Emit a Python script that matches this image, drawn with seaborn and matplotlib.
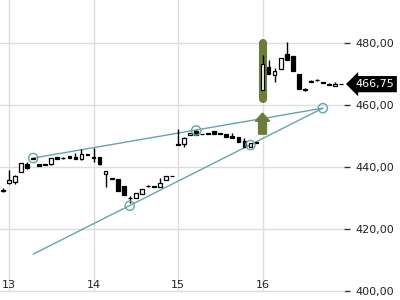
import numpy as np
import pandas as pd
import matplotlib
matplotlib.use("Agg")
import matplotlib.pyplot as plt
import matplotlib.transforms as mtransforms
import seaborn as sns

# ---- data ----
opens  = [432.4, 434.8, 435.3, 438.5, 440.9, 442.6, 441.0, 440.9, 440.9, 443.4,
          442.8, 443.5, 443.1, 442.5, 444.2, 443.3, 443.1, 437.7, 436.3, 436.1,
          433.9, 429.9, 429.9, 431.3, 433.8, 433.9, 433.5, 435.8, 437.1, 447.3,
          447.4, 450.3, 451.7, 450.6, 450.9, 451.6, 450.9, 450.6, 450.0, 449.8,
          448.5, 446.5, 448.0, 464.8, 472.4, 469.7, 471.5, 476.5, 475.8, 470.0,
          465.0, 467.6, 468.0, 467.3, 466.6, 466.0, 466.8]
highs  = [433.2, 439.0, 437.3, 441.3, 441.7, 442.9, 441.0, 440.9, 443.0, 443.4,
          443.2, 443.5, 444.6, 445.7, 444.2, 446.0, 443.3, 438.7, 436.4, 436.1,
          433.9, 430.6, 431.7, 432.8, 434.2, 433.9, 436.6, 437.1, 437.1, 452.3,
          449.8, 451.0, 451.9, 450.6, 450.9, 451.6, 450.9, 450.6, 450.9, 449.8,
          449.4, 447.8, 448.0, 476.1, 474.7, 471.8, 475.3, 480.4, 475.8, 470.0,
          465.5, 468.2, 468.4, 467.3, 467.1, 467.3, 466.8]
lows   = [432.0, 434.5, 434.5, 438.4, 439.3, 442.5, 440.3, 440.5, 440.8, 442.5,
          442.6, 442.8, 442.5, 442.3, 444.0, 441.7, 440.6, 433.6, 436.3, 432.4,
          431.0, 428.3, 429.9, 431.3, 433.5, 433.5, 433.5, 435.8, 437.0, 447.1,
          446.6, 450.3, 450.3, 450.5, 450.8, 450.6, 450.8, 449.6, 449.3, 448.2,
          446.5, 446.5, 447.9, 464.8, 469.9, 467.5, 471.5, 474.7, 471.1, 465.1,
          464.6, 467.3, 467.7, 467.1, 466.4, 466.0, 466.75]
closes = [432.7, 435.8, 437.1, 441.2, 439.6, 442.8, 440.3, 440.5, 442.8, 442.5,
          442.9, 442.8, 442.5, 444.2, 444.0, 443.0, 441.0, 438.7, 436.4, 432.4,
          431.0, 430.1, 431.7, 432.8, 433.9, 433.5, 435.0, 437.1, 437.0, 447.1,
          449.4, 451.0, 450.3, 450.5, 450.8, 450.6, 450.8, 449.6, 449.3, 448.2,
          446.5, 447.8, 447.9, 473.1, 469.9, 471.0, 475.3, 474.7, 471.1, 465.1,
          465.2, 467.8, 468.1, 467.1, 466.8, 466.7, 466.75]

day_tick_pos = [1, 15, 29, 43]
day_labels = ["13", "14", "15", "16"]
y_ticks = [400, 420, 440, 460, 480]
last_price = 466.75

upper_line_x = [5, 53]
upper_line_y = [442.9, 459.0]
lower_line_x = [5, 53]
lower_line_y = [411.9, 459.0]
anchor_x = [5, 32, 53, 21, 41]
anchor_y = [442.9, 451.8, 459.0, 427.5, 447.1]

signal_idx = 43
signal_lo, signal_hi = 460.6, 481.3
arrow_base, arrow_tip = 450.6, 457.4

# ---- styling ----
sns.set_style("white")
plt.rcParams['font.family'] = ['DejaVu Sans']
TEAL = "#64a5aa"
OLIVE = "#6c7d3a"
GRID = "#dddddd"

df = pd.DataFrame({"i": np.arange(len(opens)), "o": opens, "h": highs,
                   "l": lows, "c": closes})
df["bottom"] = df[["o", "c"]].min(axis=1)
df["height"] = (df["c"] - df["o"]).abs()
df["up"] = df["c"] >= df["o"]

fig = plt.figure(figsize=(4, 3), dpi=100)
ax = fig.add_axes([0.0, 0.03, 0.86, 0.97])

# grid
for v in y_ticks[1:]:
    ax.axhline(v, color=GRID, lw=1, zorder=0)
for p in day_tick_pos:
    ax.axvline(p, color=GRID, lw=1, zorder=0)

# signal highlight (rounded pill)
ax.plot([signal_idx, signal_idx], [signal_lo + 1.3, signal_hi - 1.3], color=OLIVE,
        lw=5.8, solid_capstyle='round', zorder=1)

# trend lines
lines_df = pd.DataFrame({"x": upper_line_x + lower_line_x,
                         "y": upper_line_y + lower_line_y,
                         "line": ["upper"] * 2 + ["lower"] * 2})
sns.lineplot(data=lines_df, x="x", y="y", units="line", estimator=None,
             color=TEAL, lw=1, ax=ax, zorder=2, legend=False)

# candles
ax.vlines(df["i"], df["l"], df["h"], color="black", lw=1, zorder=3)
ax.bar(df["i"], df["height"], bottom=df["bottom"], width=0.62,
       color=np.where(df["up"], "white", "black"), edgecolor="black",
       linewidth=0.9, zorder=4)

# anchors
sns.scatterplot(x=anchor_x, y=anchor_y, ax=ax, s=44, facecolor="none",
                edgecolor=TEAL, linewidth=1, zorder=5)

# green arrow
ax.arrow(signal_idx, arrow_base, 0, arrow_tip - arrow_base, width=1.3,
         head_width=2.4, head_length=2.6, length_includes_head=True,
         color=OLIVE, zorder=5)

ax.set_xlim(-0.5, 56.5)
ax.set_ylim(400, 493.9)

ax.set_xticks(day_tick_pos)
ax.set_xticklabels(day_labels)
ax.yaxis.tick_right()
ax.set_yticks(y_ticks)
ax.set_yticklabels([f"{v:.2f}".replace(".", ",") for v in y_ticks])
ax.tick_params(axis='x', length=4, width=1, color="#333333", labelsize=8,
               pad=-12.0, labelcolor="#222222")
ax.tick_params(axis='y', length=4.5, width=1, color="#333333", labelsize=8,
               pad=4, labelcolor="#222222")
ax.set_xlabel("")
ax.set_ylabel("")
for s in ["top", "left", "right"]:
    ax.spines[s].set_visible(False)
ax.spines["bottom"].set_color(GRID)
ax.spines["bottom"].set_linewidth(1)

# last price label
trans = mtransforms.blended_transform_factory(ax.transAxes, ax.transData)
ax.text(1.032, last_price, f"{last_price:.2f}".replace(".", ","), transform=trans,
        ha="left", va="center", color="white", fontsize=8, zorder=10,
        bbox=dict(boxstyle="larrow,pad=0.28", fc="black", ec="none"),
        clip_on=False)

fig.savefig("out.png", dpi=100)
